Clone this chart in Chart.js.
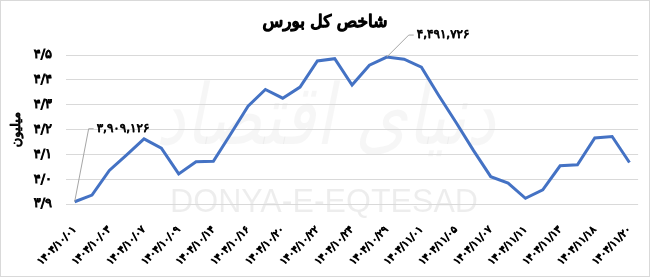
<!DOCTYPE html>
<html>
<head>
<meta charset="utf-8">
<script src="https://cdn.jsdelivr.net/npm/chart.js@4/dist/chart.umd.min.js"></script>
<style>
  html, body { margin: 0; padding: 0; background: #fff; }
  #wrap { width: 650px; height: 277px; position: relative; }
</style>
</head>
<body>
<div id="wrap"><canvas id="chart1" width="650" height="277"></canvas></div>
<script>
// trading days (solar hijri), index values in millions
const dates = [
  '1404/10/01', '1404/10/02', '1404/10/03', '1404/10/06', '1404/10/07', '1404/10/08',
  '1404/10/09', '1404/10/10', '1404/10/14', '1404/10/15', '1404/10/16', '1404/10/17',
  '1404/10/20', '1404/10/21', '1404/10/22', '1404/10/23', '1404/10/24', '1404/10/28',
  '1404/10/29', '1404/10/30', '1404/11/01', '1404/11/04', '1404/11/05', '1404/11/06',
  '1404/11/07', '1404/11/08', '1404/11/11', '1404/11/12', '1404/11/13', '1404/11/15',
  '1404/11/18', '1404/11/19', '1404/11/20'
];
const indexValues = [
  3.909126, 3.936, 4.035, 4.098, 4.162, 4.125, 4.021, 4.070, 4.072, 4.182, 4.294,
  4.361, 4.326, 4.371, 4.476, 4.485, 4.379, 4.459, 4.491726, 4.483, 4.451, 4.337,
  4.228, 4.116, 4.010, 3.984, 3.923, 3.957, 4.054, 4.058, 4.166, 4.172, 4.067
];
const yMin = 3.9;
const yMax = 4.5;
const yStep = 0.1;
const chartTitle = 'شاخص کل بورس';
const yTitle = 'میلیون';
const watermark = 'DONYA-E-EQTESAD';
const watermarkFa = 'دنیای اقتصاد';

const FONT = '"DejaVu Sans", sans-serif';
const fa = (s) => String(s).replace(/[0-9]/g, (d) => '۰۱۲۳۴۵۶۷۸۹'[d]);
const faNum = (v) => fa(Math.round(v * 1e6).toLocaleString('en-US'));

const firstIdx = 0;
const maxIdx = indexValues.indexOf(Math.max(...indexValues));

// heavy text: fill + thin stroke, since the Arabic glyphs have no bold face
const heavyText = (ctx, txt, x, y, stroke) => {
  ctx.lineWidth = stroke;
  ctx.strokeStyle = ctx.fillStyle;
  ctx.lineJoin = 'round';
  ctx.strokeText(txt, x, y);
  ctx.fillText(txt, x, y);
};

const decor = {
  id: 'decor',
  beforeDraw(chart) {
    const ctx = chart.ctx;
    ctx.save();
    ctx.fillStyle = '#fff';
    ctx.fillRect(0, 0, chart.width, chart.height);
    ctx.strokeStyle = '#d9d9d9';
    ctx.lineWidth = 1;
    ctx.strokeRect(0.5, 0.5, chart.width - 1, chart.height - 1);
    // watermarks
    ctx.textAlign = 'center';
    ctx.textBaseline = 'middle';
    ctx.fillStyle = 'rgba(0,0,0,0.035)';
    ctx.save();
    ctx.translate(330, 122);
    ctx.transform(1, 0, -0.2, 1, 0, 0);
    ctx.direction = 'rtl';
    ctx.font = '84px ' + FONT;
    ctx.fillText(watermarkFa, 0, 0, 340);
    ctx.restore();
    ctx.fillStyle = 'rgba(0,0,0,0.07)';
    ctx.font = '34px "Liberation Sans", sans-serif';
    ctx.fillText(watermark, 324, 203, 308);
    ctx.restore();
  },
  afterDraw(chart) {
    const ctx = chart.ctx;
    const x = chart.scales.x, y = chart.scales.y;
    ctx.save();
    // title
    ctx.fillStyle = '#000';
    ctx.font = '17px ' + FONT;
    ctx.direction = 'rtl';
    ctx.textAlign = 'center';
    ctx.textBaseline = 'middle';
    heavyText(ctx, chartTitle, 325, 23, 1.4);
    // y title
    ctx.save();
    ctx.translate(17, (chart.chartArea.top + chart.chartArea.bottom) / 2);
    ctx.rotate(-Math.PI / 2);
    ctx.font = '13px ' + FONT;
    heavyText(ctx, yTitle, 0, 0, 0.9);
    ctx.restore();
    ctx.direction = 'ltr';
    // callouts
    const callout = (i, ex, ey) => {
      const px = x.getPixelForValue(i), py = y.getPixelForValue(indexValues[i]);
      ctx.strokeStyle = '#a6a6a6';
      ctx.lineWidth = 1;
      ctx.beginPath();
      ctx.moveTo(px, py);
      ctx.lineTo(px + ex, py + ey);
      ctx.lineTo(px + ex + 5, py + ey);
      ctx.stroke();
      ctx.fillStyle = '#000';
      ctx.font = '12px ' + FONT;
      ctx.textAlign = 'left';
      ctx.textBaseline = 'middle';
      heavyText(ctx, faNum(indexValues[i]), px + ex + 8, py + ey, 0.8);
    };
    callout(firstIdx, 14, -73);
    callout(maxIdx, 22, -22);
    ctx.restore();
  }
};

new Chart(document.getElementById('chart1'), {
  type: 'line',
  data: {
    labels: dates,
    datasets: [{
      label: chartTitle,
      data: indexValues,
      borderColor: '#4472C4',
      borderWidth: 3,
      pointRadius: 0,
      tension: 0,
      fill: false
    }]
  },
  options: {
    responsive: false,
    animation: false,
    layout: { padding: { left: 0, right: 4, top: 55, bottom: 0 } },
    plugins: {
      legend: { display: false },
      tooltip: { enabled: false },
      title: { display: false }
    },
    scales: {
      x: {
        offset: true,
        grid: { display: false },
        border: { display: false },
        afterFit: (s) => { s.height = 73; },
        ticks: {
          autoSkip: false,
          minRotation: 45,
          maxRotation: 45,
          padding: 12,
          color: '#000',
          textStrokeColor: '#000',
          textStrokeWidth: 0.9,
          font: { family: FONT, size: 10 },
          callback: (v, i) => (i % 2 === 0 ? fa(dates[i]) : '')
        }
      },
      y: {
        min: yMin,
        max: yMax,
        grid: { color: '#d9d9d9', drawTicks: false },
        border: { display: false },
        afterFit: (s) => { s.width = 66; },
        ticks: {
          stepSize: yStep,
          padding: 14,
          color: '#000',
          textStrokeColor: '#000',
          textStrokeWidth: 0.9,
          font: { family: FONT, size: 13 },
          callback: (v) => fa(v.toFixed(1).replace('.', '/'))
        }
      }
    }
  },
  plugins: [decor]
});
</script>
</body>
</html>
